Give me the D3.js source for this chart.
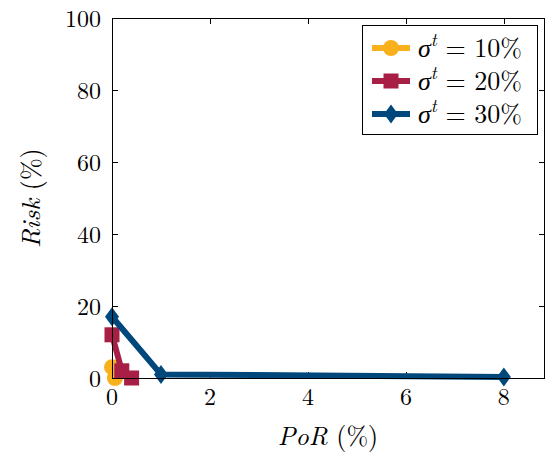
<!DOCTYPE html>
<html>
<head>
<meta charset="utf-8">
<script src="https://cdn.jsdelivr.net/npm/d3@7"></script>
<style>
  body { margin: 0; background: #fff; }
  text { font-family: "Latin Modern Roman", "Liberation Serif", "DejaVu Serif", serif; }
</style>
</head>
<body>
<svg id="chart" width="548" height="453"></svg>
<script>
// data
let seriesNames = ["10%", "20%", "30%"];
let porS1 = [0, 0.06];
let riskS1 = [3, 0];
let porS2 = [0, 0.2, 0.4];
let riskS2 = [12, 2, 0];
let porS3 = [0, 1, 8];
let riskS3 = [17, 1, 0.3];
let xTicks = [0, 2, 4, 6, 8];
let yTicks = [0, 20, 40, 60, 80, 100];

let colors = ["#F8B11D", "#A81F45", "#00477C"];
let markers = ["circle", "square", "diamond"];

let svg = d3.select("#chart");
let pLeft = 112, pTop = 18, pRight = 545, pBottom = 378;

let x = d3.scaleLinear().domain([0, 8.84]).range([pLeft, pRight]);
let y = d3.scaleLinear().domain([0, 100]).range([pBottom, pTop]);

let series = [
  { name: seriesNames[0], pts: porS1.map((v, i) => [v, riskS1[i]]) },
  { name: seriesNames[1], pts: porS2.map((v, i) => [v, riskS2[i]]) },
  { name: seriesNames[2], pts: porS3.map((v, i) => [v, riskS3[i]]) }
];

// ticks inside on all four sides
let tickLen = 6;
let tg = svg.append("g").attr("stroke", "#000").attr("stroke-width", 1);
xTicks.forEach(t => {
  let px = Math.round(x(t)) + 0.5;
  tg.append("line").attr("x1", px).attr("x2", px).attr("y1", pBottom).attr("y2", pBottom - tickLen);
  tg.append("line").attr("x1", px).attr("x2", px).attr("y1", pTop).attr("y2", pTop + tickLen);
});
yTicks.forEach(t => {
  let py = Math.round(y(t)) + 0.5;
  tg.append("line").attr("x1", pLeft).attr("x2", pLeft + tickLen).attr("y1", py).attr("y2", py);
  tg.append("line").attr("x1", pRight).attr("x2", pRight - tickLen).attr("y1", py).attr("y2", py);
});

// tick labels
svg.append("g").selectAll("text").data(xTicks).enter().append("text")
  .attr("x", d => x(d)).attr("y", pBottom + 27)
  .attr("text-anchor", "middle").attr("font-size", 24)
  .text(d => d);
svg.append("g").selectAll("text").data(yTicks).enter().append("text")
  .attr("x", pLeft - 11).attr("y", d => y(d) + 9)
  .attr("text-anchor", "end").attr("font-size", 24)
  .text(d => d);

// axis labels
let xl = svg.append("text").attr("x", 328).attr("y", 445).attr("text-anchor", "middle").attr("font-size", 26);
xl.append("tspan").attr("font-style", "italic").text("PoR");
xl.append("tspan").text(" (%)");
let yl = svg.append("text").attr("transform", "translate(40,198) rotate(-90)").attr("text-anchor", "middle").attr("font-size", 26);
yl.append("tspan").attr("font-style", "italic").text("Risk");
yl.append("tspan").text(" (%)");

// markers
let drawMarker = (g, type, cx, cy, color) => {
  if (type === "circle") {
    g.append("circle").attr("cx", cx).attr("cy", cy).attr("r", 8).attr("fill", color);
  } else if (type === "square") {
    g.append("rect").attr("x", cx - 7.5).attr("y", cy - 7.5).attr("width", 15).attr("height", 15).attr("fill", color);
  } else {
    g.append("path").attr("d", `M${cx},${cy - 9.5}L${cx + 7},${cy}L${cx},${cy + 9.5}L${cx - 7},${cy}Z`).attr("fill", color);
  }
};

let line = d3.line().x(d => x(d[0])).y(d => y(d[1]));
let plot = svg.append("g");
series.forEach((s, i) => {
  plot.append("path").datum(s.pts).attr("d", line)
    .attr("fill", "none").attr("stroke", colors[i]).attr("stroke-width", 6)
    .attr("stroke-linejoin", "round");
  s.pts.forEach(p => drawMarker(plot, markers[i], x(p[0]), y(p[1]), colors[i]));
});

// frame
svg.append("rect").attr("x", pLeft + 0.5).attr("y", pTop + 0.5)
  .attr("width", pRight - pLeft - 1).attr("height", pBottom - pTop)
  .attr("fill", "none").attr("stroke", "#000").attr("stroke-width", 1);

// legend
let lg = svg.append("g");
lg.append("rect").attr("x", 362.5).attr("y", 25.5).attr("width", 175).attr("height", 109)
  .attr("fill", "#fff").attr("stroke", "#000").attr("stroke-width", 1);
series.forEach((s, i) => {
  let ly = 48 + i * 33;
  lg.append("line").attr("x1", 372).attr("x2", 410).attr("y1", ly).attr("y2", ly)
    .attr("stroke", colors[i]).attr("stroke-width", 6);
  drawMarker(lg, markers[i], 391, ly, colors[i]);
  let t = lg.append("text").attr("x", 418).attr("y", ly + 9).attr("font-size", 26);
  t.append("tspan").attr("font-style", "italic").text("σ");
  t.append("tspan").attr("font-style", "italic").attr("font-size", 18).attr("dy", -11).text("t");
  t.append("tspan").attr("dy", 11).text(" = " + s.name);
});
</script>
</body>
</html>
